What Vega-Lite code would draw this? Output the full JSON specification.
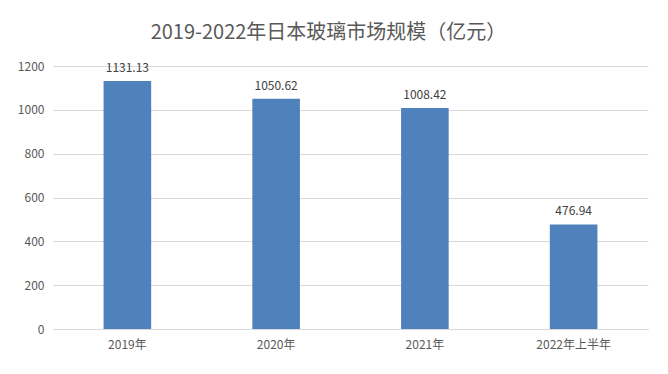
{
  "$schema": "https://vega.github.io/schema/vega-lite/v6.json",
  "autosize": "none",
  "width": 595,
  "height": 263,
  "padding": {"left": 53, "top": 66, "right": 20, "bottom": 45},
  "background": "white",
  "title": {
    "text": "2019-2022年日本玻璃市场规模（亿元）",
    "font": "Noto Sans CJK SC",
    "fontSize": 20,
    "fontWeight": "normal",
    "color": "#595959",
    "anchor": "middle",
    "dx": -22,
    "offset": 17
  },
  "data": {
    "values": [
      {"year": "2019年", "value": 1131.13},
      {"year": "2020年", "value": 1050.62},
      {"year": "2021年", "value": 1008.42},
      {"year": "2022年上半年", "value": 476.94}
    ]
  },
  "encoding": {
    "x": {
      "field": "year",
      "type": "nominal",
      "sort": null,
      "scale": {"paddingInner": 0.68, "paddingOuter": 0.34},
      "axis": {
        "title": null,
        "labelAngle": 0,
        "ticks": false,
        "domainColor": "#d9d9d9",
        "labelColor": "#595959",
        "labelFont": "Noto Sans CJK SC",
        "labelFontSize": 12,
        "labelPadding": 10
      }
    },
    "y": {
      "field": "value",
      "type": "quantitative",
      "scale": {"domain": [0, 1200]},
      "axis": {
        "title": null,
        "values": [0, 200, 400, 600, 800, 1000, 1200],
        "format": "d",
        "ticks": false,
        "domain": false,
        "gridColor": "#d9d9d9",
        "labelColor": "#595959",
        "labelFont": "Noto Sans CJK SC",
        "labelFontSize": 12,
        "labelPadding": 9
      }
    }
  },
  "layer": [
    {"mark": {"type": "bar", "color": "#4F81BD"}},
    {
      "mark": {"type": "text", "dy": -13, "font": "Noto Sans CJK SC", "fontSize": 12, "color": "#404040"},
      "encoding": {"text": {"field": "value", "type": "quantitative", "format": ".2f"}}
    }
  ],
  "config": {"view": {"stroke": null}}
}
